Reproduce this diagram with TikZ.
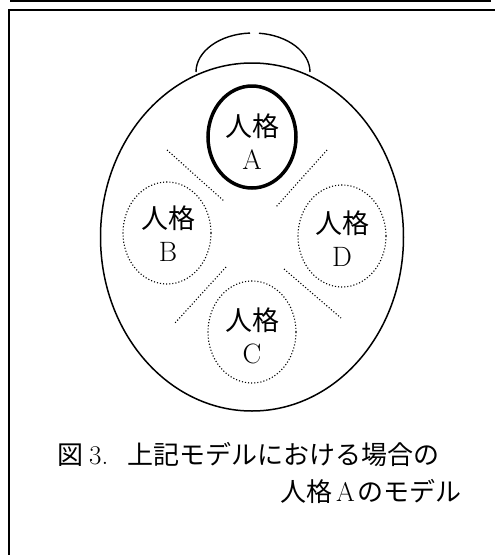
\documentclass[tikz,border=0pt]{standalone}
\usepackage{fontspec}
\usetikzlibrary{shapes.geometric}
\newfontfamily\jp{Noto Sans CJK JP}
\tikzset{
  pers/.style={ellipse, draw, minimum width=88pt, minimum height=102pt, inner sep=0pt},
  dotpers/.style={pers, dotted, line width=1.1pt},
  thickpers/.style={pers, line width=3.5pt},
  ptext/.style={align=center, font=\fontsize{27}{33}\selectfont, inner sep=0pt},
  sep/.style={dotted, line width=1.1pt},
  captext/.style={font=\fontsize{26}{30}\selectfont, inner sep=0pt, anchor=west},
  frameline/.style={line width=1.5pt},
}
\newcommand{\lat}[1]{{\fontsize{28}{33}\selectfont #1}}
\newcommand{\clat}[1]{{\fontsize{27}{30}\selectfont #1}}
\begin{document}
\begin{tikzpicture}[x=1pt,y=-1pt]
\useasboundingbox (0,0) rectangle (495,555);
% frame
\draw[frameline] (10,1) -- (491,1);
\draw[frameline] (9,555) -- (9,10) -- (495,10);
% bump
\draw[line width=1.4pt] (196,72) arc[start angle=180, end angle=93, x radius=57pt, y radius=39pt];
\draw[line width=1.4pt] (310,72) arc[start angle=0, end angle=84, x radius=57pt, y radius=39pt];
% head
\node[ellipse, draw, fill=white, line width=1.5pt, minimum width=303pt, minimum height=348pt, inner sep=0pt] (head) at (252,237) {};
% personas
\node[thickpers] (A) at (252,137) {};
\node[dotpers] (B) at (167,233) {};
\node[dotpers] (D) at (342,236) {};
\node[dotpers] (C) at (252,332) {};
\node[ptext] (At) at (252,142) {{\jp 人格}\\\lat{A}};
\node[ptext] (Bt) at (168,234) {{\jp 人格}\\\lat{B}};
\node[ptext] (Dt) at (342,239) {{\jp 人格}\\\lat{D}};
\node[ptext] (Ct) at (252,336) {{\jp 人格}\\\lat{C}};
% separators
\coordinate (s1a) at (167,150); \coordinate (s1b) at (224,201);
\coordinate (s2a) at (327,150); \coordinate (s2b) at (276,207);
\coordinate (s3a) at (226,267); \coordinate (s3b) at (175,323);
\coordinate (s4a) at (284,269); \coordinate (s4b) at (341,318);
\draw[sep] (s1a) -- (s1b);
\draw[sep] (s2a) -- (s2b);
\draw[sep] (s3a) -- (s3b);
\draw[sep] (s4a) -- (s4b);
% caption
\node[captext] (cap1) at (57,455) {{\jp 図}\hspace{6pt}\clat{3.}\hspace{19pt}{\jp 上記モデルにおける場合の}};
\node[captext] (cap2) at (280,491) {{\jp 人格}\hspace{4pt}\clat{A}\hspace{3pt}{\jp のモデル}};
\end{tikzpicture}
\end{document}
